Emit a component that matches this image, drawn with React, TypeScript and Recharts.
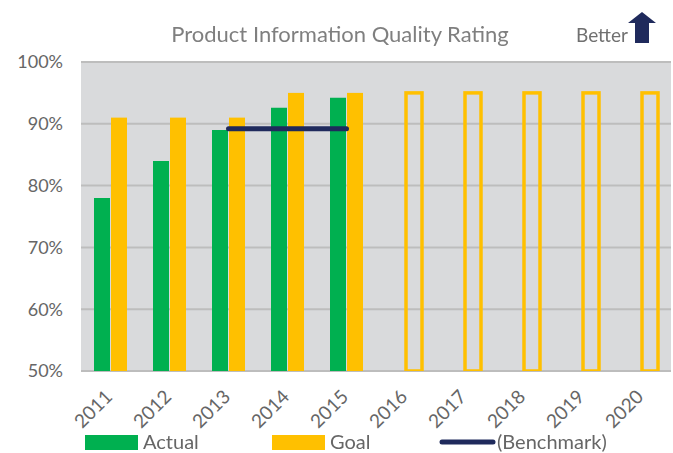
import React from "react";
import { ComposedChart, Bar, Line, XAxis, YAxis, CartesianGrid } from "recharts";

const years = ["2011", "2012", "2013", "2014", "2015", "2016", "2017", "2018", "2019", "2020"];
const actual: (number | null)[] = [78, 84, 89, 92.6, 94.2, null, null, null, null, null];
const goal: number[] = [91, 91, 91, 95, 95, 95, 95, 95, 95, 95];
const benchmark: (number | null)[] = [null, null, 89.2, 89.2, 89.2, null, null, null, null, null];
const yTicks = [50, 60, 70, 80, 90, 100];

const data = years.map((y, i) => ({
  year: y,
  actual: actual[i],
  goal: goal[i],
  benchmark: benchmark[i],
  projected: actual[i] == null,
}));

const GREEN = "#00B050";
const YELLOW = "#FFC000";
const NAVY = "#1F2A5C";
const FONT = "Lato, 'Open Sans', sans-serif";

const GoalShape = (props: any) => {
  const { x, y, width, height, payload } = props;
  if (payload && payload.projected) {
    return (
      <rect x={x} y={y} width={width} height={height} fill="none" stroke={YELLOW} strokeWidth={3.5} />
    );
  }
  return <rect x={x} y={y} width={width} height={height} fill={YELLOW} />;
};

const XTick = (props: any) => {
  const { x, y, payload } = props;
  const ax = x + 3;
  const ay = y + 19;
  return (
    <text
      x={ax}
      y={ay}
      transform={`rotate(-45, ${ax}, ${ay})`}
      textAnchor="end"
      fontSize={19}
      fill="#666666"
      fontFamily={FONT}
    >
      {payload.value}
    </text>
  );
};

export default function App() {
  return (
    <div style={{ position: "fixed", left: 0, top: 0, width: 673, height: 453, background: "#fff" }}>
      <ComposedChart
        width={673}
        height={453}
        data={data}
        margin={{ top: 62, right: 2, left: 0, bottom: 0 }}
        barSize={16}
        barGap={1}
      >
        <CartesianGrid vertical={false} fill="#D9DADC" stroke="#BDBDBD" strokeWidth={2} />
        <XAxis
          dataKey="year"
          axisLine={false}
          tickLine={false}
          height={82}
          interval={0}
          tick={<XTick />}
        />
        <YAxis
          domain={[50, 100]}
          ticks={yTicks}
          width={81}
          axisLine={false}
          tickLine={false}
          tickSize={6}
          tickMargin={12}
          tickFormatter={(v: number) => `${v}%`}
          tick={{ fontSize: 18, fill: "#666666", fontFamily: FONT }}
          allowDataOverflow
        />
        <Bar dataKey="actual" fill={GREEN} isAnimationActive={false} />
        <Bar dataKey="goal" fill={YELLOW} shape={<GoalShape />} isAnimationActive={false} />
        <Line
          dataKey="benchmark"
          stroke={NAVY}
          strokeWidth={5}
          strokeLinecap="round"
          dot={false}
          activeDot={false}
          isAnimationActive={false}
        />
      </ComposedChart>
      <div
        style={{
          position: "absolute",
          left: 0,
          top: 20,
          width: 680,
          textAlign: "center",
          fontFamily: FONT,
          fontSize: 22,
          color: "#7F7F7F",
        }}
      >
        Product Information Quality Rating
      </div>
      <svg style={{ position: "absolute", left: 0, top: 0 }} width={673} height={453}>
        <text x={576} y={42} fontFamily={FONT} fontSize={19} fill="#707070">Better</text>
        <polygon points="642,12 656,23 649,23 649,43 635,43 635,23 628,23" fill={NAVY} />
        <rect x={85} y={435} width={53} height={15} fill={GREEN} />
        <rect x={272} y={435} width={53} height={15} fill={YELLOW} />
        <line x1={442} y1={442} x2={493} y2={442} stroke={NAVY} strokeWidth={5} strokeLinecap="round" />
        <text x={143} y={449} fontFamily={FONT} fontSize={20} fill="#666666">Actual</text>
        <text x={330} y={449} fontFamily={FONT} fontSize={20} fill="#666666">Goal</text>
        <text x={497} y={449} fontFamily={FONT} fontSize={20} fill="#666666">(Benchmark)</text>
      </svg>
    </div>
  );
}
